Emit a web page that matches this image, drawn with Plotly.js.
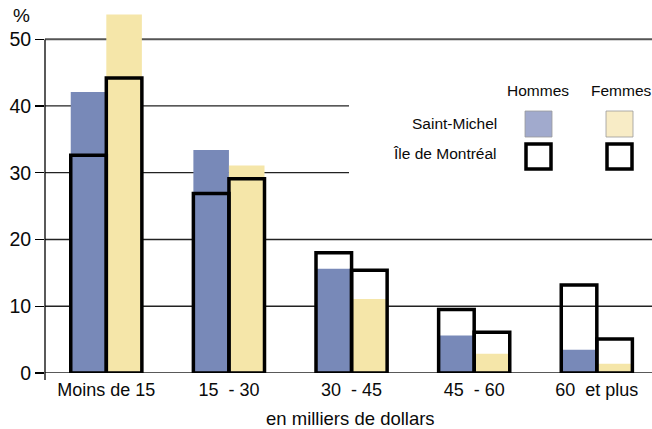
<!DOCTYPE html>
<html>
<head>
<meta charset="utf-8">
<script src="https://cdn.plot.ly/plotly-3.0.1.min.js"></script>
<style>html,body{margin:0;padding:0;background:#fff;}#chart{width:652px;height:429px;}</style>
</head>
<body>
<div id="chart"></div>
<script>
// ---- data ----
const categories = ["Moins de 15", "15\u00a0 - 30", "30\u00a0 - 45", "45\u00a0 - 60", "60\u00a0 et plus"];
const smHommes  = [42.1, 33.4, 15.6, 5.6, 3.5];   // Saint-Michel, Hommes
const smFemmes  = [53.7, 31.1, 11.1, 2.9, 1.4];   // Saint-Michel, Femmes
const mtlHommes = [32.6, 26.9, 18.0, 9.5, 13.2];  // Île de Montréal, Hommes
const mtlFemmes = [44.2, 29.1, 15.4, 6.1, 5.1];   // Île de Montréal, Femmes
const yTicks = [0, 10, 20, 30, 40, 50];
const xTitle = "en milliers de dollars";
const yUnit = "%";
const legendRows = ["Saint-Michel", "Île de Montréal"];
const legendCols = ["Hommes", "Femmes"];

// ---- layout helpers ----
const W = 652, H = 429, ML = 45, MR = 0, MT = 0, MB = 56;
const PW = W - ML - MR, PH = H - MT - MB;
const px = x => (x - ML) / PW;           // pixel x -> paper
const py = y => (H - MB - y) / PH;       // pixel y -> paper

const FONT = "Liberation Sans, Arial, Helvetica, sans-serif";
const TXT = "#0a0a0a";
const BLUE = "#7889b8", YELLOW = "#f5e6a9";
const xs = categories.map((c, i) => i);
const BW = 0.29;

const traces = [
  {type: "bar", x: xs, y: smHommes, width: BW, offset: -BW, marker: {color: BLUE, line: {width: 0}}, name: legendCols[0]},
  {type: "bar", x: xs, y: smFemmes, width: BW, offset: 0, marker: {color: YELLOW, line: {width: 0}}, name: legendCols[1]},
  {type: "bar", x: xs, y: mtlHommes, width: BW, offset: -BW, marker: {color: "rgba(0,0,0,0)", line: {color: "#000", width: 3.5}}, name: legendCols[0]},
  {type: "bar", x: xs, y: mtlFemmes, width: BW, offset: 0, marker: {color: "rgba(0,0,0,0)", line: {color: "#000", width: 3.5}}, name: legendCols[1]}
];

const shapes = [];
// gridlines (30 and 40 stop short where the legend sits)
yTicks.forEach(v => {
  if (v === 0) return;
  const short = (v === 30 || v === 40);
  shapes.push({type: "line", layer: "below", xref: "paper", yref: "y", x0: 0, x1: short ? px(349) : 1, y0: v, y1: v,
    line: {color: v === 50 ? "#555" : "#222", width: v === 50 ? 2 : 1.3}});
});
// axes
shapes.push({type: "line", xref: "paper", yref: "y", x0: 0, x1: 1, y0: 0, y1: 0, line: {color: "#222", width: 1.3}, layer: "below"});
shapes.push({type: "line", xref: "paper", yref: "paper", x0: 0, x1: 0, y0: py(380), y1: py(39.5), line: {color: "#000", width: 1.3}});
// legend swatches
const sw = [[525, 552], [606, 633]];
shapes.push({type: "rect", xref: "paper", yref: "paper", x0: px(sw[0][0]), x1: px(sw[0][1]), y0: py(137), y1: py(111), fillcolor: "#a1aacd", line: {color: "#999", width: 0.8}});
shapes.push({type: "rect", xref: "paper", yref: "paper", x0: px(sw[1][0]), x1: px(sw[1][1]), y0: py(137), y1: py(111), fillcolor: "#f8ecc6", line: {color: "#999", width: 0.8}});
shapes.push({type: "rect", xref: "paper", yref: "paper", x0: px(sw[0][0]+1), x1: px(sw[0][1]-1), y0: py(169), y1: py(144), fillcolor: "rgba(0,0,0,0)", line: {color: "#000", width: 3.5}});
shapes.push({type: "rect", xref: "paper", yref: "paper", x0: px(sw[1][0]+1), x1: px(sw[1][1]-1), y0: py(169), y1: py(144), fillcolor: "rgba(0,0,0,0)", line: {color: "#000", width: 3.5}});

const ann = [
  {text: yUnit, xref: "paper", yref: "paper", x: px(21), y: py(15), xanchor: "center", yanchor: "middle", showarrow: false, font: {size: 19, color: TXT, family: FONT}},
  {text: xTitle, xref: "paper", yref: "paper", x: px(350), y: py(418), xanchor: "center", yanchor: "middle", showarrow: false, font: {size: 18.5, color: TXT, family: FONT}},
  {text: legendCols[0], xref: "paper", yref: "paper", x: px(538), y: py(90), xanchor: "center", yanchor: "middle", showarrow: false, font: {size: 15.5, color: TXT, family: FONT}},
  {text: legendCols[1], xref: "paper", yref: "paper", x: px(621), y: py(90), xanchor: "center", yanchor: "middle", showarrow: false, font: {size: 15.5, color: TXT, family: FONT}},
  {text: legendRows[0], xref: "paper", yref: "paper", x: px(499), y: py(123.5), xanchor: "right", yanchor: "middle", showarrow: false, font: {size: 15.5, color: TXT, family: FONT}},
  {text: legendRows[1], xref: "paper", yref: "paper", x: px(499), y: py(153.5), xanchor: "right", yanchor: "middle", showarrow: false, font: {size: 15.5, color: TXT, family: FONT}}
];

const layout = {
  width: W, height: H,
  margin: {l: ML, r: MR, t: MT, b: MB, pad: 0},
  paper_bgcolor: "#fff", plot_bgcolor: "#fff",
  barmode: "overlay",
  showlegend: false,
  font: {family: FONT, color: TXT},
  xaxis: {
    range: [-0.5, 4.45], tickvals: xs, ticktext: categories, showgrid: false, zeroline: false, showline: false,
    ticks: "", ticklabelstandoff: 4, tickfont: {size: 18, family: FONT, color: TXT}, fixedrange: true
  },
  yaxis: {
    range: [0, PH / 6.676], tickvals: yTicks, ticktext: yTicks.map(String), showgrid: false, zeroline: false,
    showline: false, ticks: "outside", ticklen: 9, tickwidth: 1.3, tickcolor: "#000",
    tickfont: {size: 19.5, family: FONT, color: TXT}, fixedrange: true
  },
  shapes: shapes,
  annotations: ann
};

Plotly.newPlot("chart", traces, layout, {staticPlot: true, displayModeBar: false});
</script>
</body>
</html>
